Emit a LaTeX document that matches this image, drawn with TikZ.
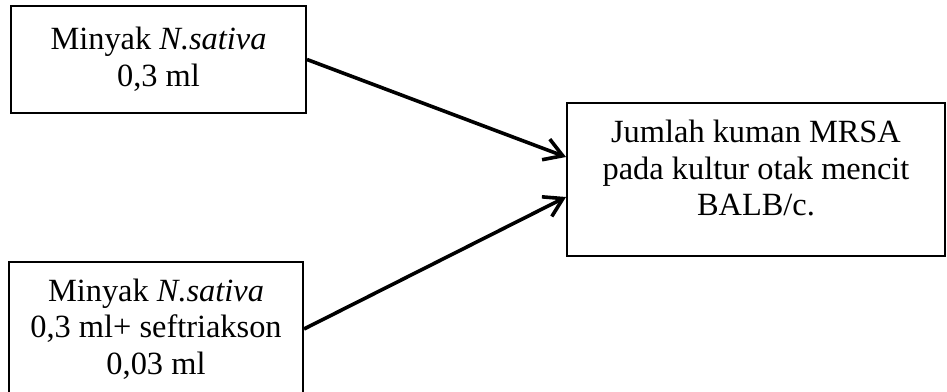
\documentclass[tikz,border=0pt]{standalone}
\usepackage{fontspec}
\setmainfont{Liberation Serif}
\usetikzlibrary{arrows.meta}

\begin{document}
\begin{tikzpicture}[x=0.5pt,y=-0.5pt]


\tikzset{kotak/.style={rectangle,draw,line width=1pt,inner sep=0pt,align=center,font=\fontsize{16.2pt}{18.25pt}\selectfont},}
\tikzset{teks/.style={inner sep=0pt,align=center,font=\fontsize{16.2pt}{18.25pt}\selectfont},}

\tikzset{panah/.style={->, >={Straight Barb[length=9pt,width=11pt]}, line width=1.8pt}}
\useasboundingbox (0,0) rectangle (947,391);
	\draw
		(158.5,59.5) node[kotak,minimum width=147.5pt,minimum height=53.5pt] (m1) {Minyak \textit{N.sativa}\\0,3 ml}
		(156,329) node[kotak,minimum width=147pt,minimum height=67pt] (m2) {Minyak \textit{N.sativa}\\0,3 ml+ seftriakson\\0,03 ml}
		
		(756,179.5) node[kotak,minimum width=189pt,minimum height=76.5pt] (hasil) {} (756,168)node[teks] (hasilteks) {Jumlah kuman MRSA\\pada kultur otak mencit\\BALB/c.}
;


\draw[panah](m1.east) -- ([yshift=11.25pt]hasil.west);
\draw[panah](m2.east) -- ([yshift=-8.75pt]hasil.west);



\end{tikzpicture}
\end{document}
